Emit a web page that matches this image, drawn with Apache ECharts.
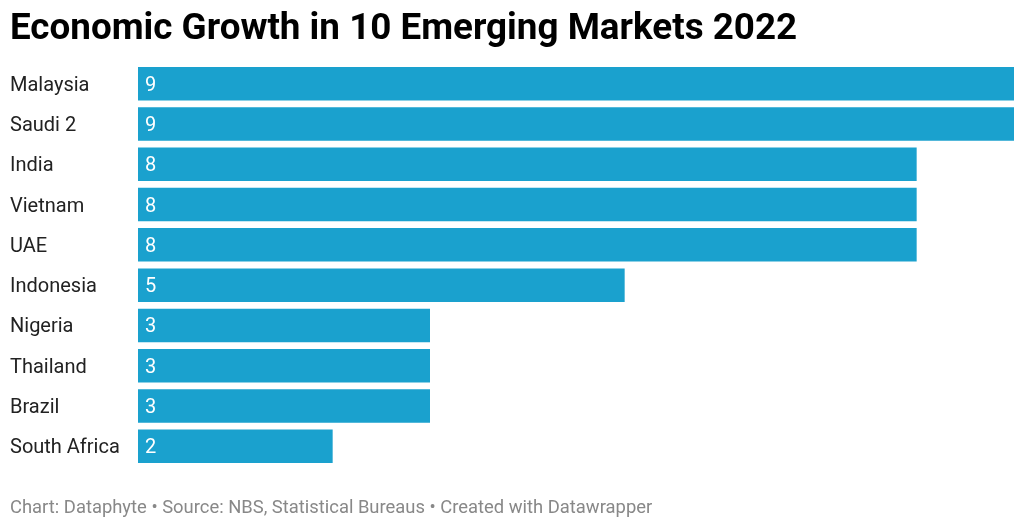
<!DOCTYPE html>
<html><head><meta charset="utf-8">
<script src="https://cdn.jsdelivr.net/npm/echarts@6/dist/echarts.min.js"></script>
<style>html,body{margin:0;padding:0;background:#fff}#c{width:1024px;height:527px}</style>
</head><body><div id="c"></div>
<script>
const categories = ["Malaysia","Saudi 2","India","Vietnam","UAE","Indonesia","Nigeria","Thailand","Brazil","South Africa"];
const values = [9,9,8,8,8,5,3,3,3,2];
const titleText = "Economic Growth in 10 Emerging Markets 2022";
const footerText = "Chart: Dataphyte \u2022 Source: NBS, Statistical Bureaus \u2022 Created with Datawrapper";

const chart = echarts.init(document.getElementById('c'), null, {renderer:'canvas'});
chart.setOption({
  animation:false,
  backgroundColor:'#fff',
  title:[
    {text:titleText,left:10,top:11,padding:0,textStyle:{fontFamily:'Roboto',fontWeight:'bold',fontSize:36.8,color:'#000'}},
    {text:footerText,left:10,top:499,padding:0,textStyle:{fontFamily:'Roboto',fontWeight:'normal',fontSize:18.4,color:'#888'}}
  ],
  grid:{left:138,right:10,top:63.5,height:403,containLabel:false},
  xAxis:{type:'value',min:0,max:9,show:false},
  yAxis:{type:'category',inverse:true,data:categories,
    axisLine:{show:false},axisTick:{show:false},
    axisLabel:{align:'left',margin:128,formatter:v=>'{a|'+v+'}',
      rich:{a:{fontFamily:'Roboto',fontSize:20,color:'#222',padding:[4,0,0,0]}}}},
  series:[{type:'bar',data:values,barWidth:33.5,
    itemStyle:{color:'#1aa1ce'},
    label:{show:true,position:'insideLeft',distance:7,offset:[0,2],color:'#fff',fontFamily:'Roboto',fontSize:20}}]
});
</script></body></html>
